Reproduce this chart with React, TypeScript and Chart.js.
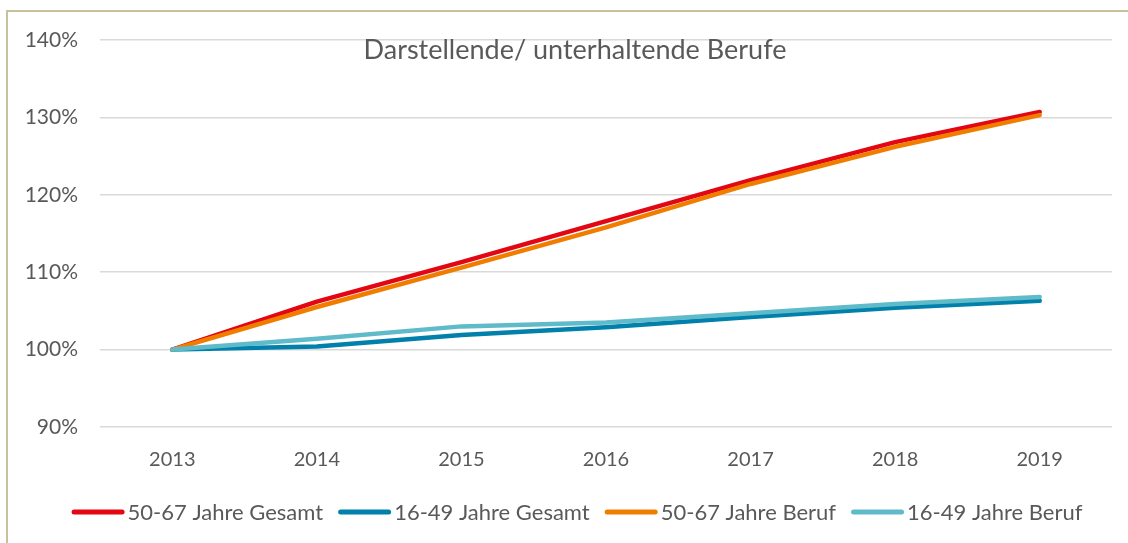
import React, { useEffect, useRef } from "react";
import { Chart, registerables } from "chart.js";

Chart.register(...registerables);

const years = ["2013", "2014", "2015", "2016", "2017", "2018", "2019"];
const gesamt5067 = [100, 106.2, 111.3, 116.6, 121.9, 126.8, 130.7];
const gesamt1649 = [100, 100.4, 101.9, 102.9, 104.2, 105.4, 106.3];
const beruf5067 = [100, 105.5, 110.6, 115.8, 121.4, 126.2, 130.3];
const beruf1649 = [100, 101.4, 103.0, 103.5, 104.7, 105.9, 106.8];
const seriesNames = ["50-67 Jahre Gesamt", "16-49 Jahre Gesamt", "50-67 Jahre Beruf", "16-49 Jahre Beruf"];
const seriesColors = ["#E30613", "#0080AA", "#F07D00", "#5FBACA"];
const yMin = 90;
const yMax = 140;
const yStep = 10;
const chartTitle = "Darstellende/ unterhaltende Berufe";

const FONT = "Lato, 'Open Sans', sans-serif";
const TEXT_COLOR = "#595959";

const overlayPlugin = {
  id: "overlay",
  afterDraw(chart: any) {
    const ctx = chart.ctx as CanvasRenderingContext2D;
    ctx.save();
    // title
    ctx.font = `27px ${FONT}`;
    ctx.fillStyle = TEXT_COLOR;
    ctx.textAlign = "center";
    ctx.textBaseline = "middle";
    ctx.fillText(chartTitle, 575, 50);

    // legend
    ctx.font = `22px ${FONT}`;
    const lineW = 53;
    const gapText = 3;
    const gapItem = 15;
    const widths = seriesNames.map((n) => ctx.measureText(n).width);
    const total = widths.reduce((a, w) => a + lineW + gapText + w, 0) + gapItem * (seriesNames.length - 1);
    let x = 577 - total / 2;
    const y = 512;
    ctx.textAlign = "left";
    seriesNames.forEach((name, i) => {
      ctx.strokeStyle = seriesColors[i];
      ctx.lineWidth = 5;
      ctx.lineCap = "round";
      ctx.beginPath();
      ctx.moveTo(x + 2.5, y);
      ctx.lineTo(x + lineW - 2.5, y);
      ctx.stroke();
      ctx.fillStyle = TEXT_COLOR;
      ctx.fillText(name, x + lineW + gapText, y + 1);
      x += lineW + gapText + widths[i] + gapItem;
    });
    ctx.restore();
  },
};

export default function App() {
  const ref = useRef<HTMLCanvasElement | null>(null);

  useEffect(() => {
    if (!ref.current) return;
    const series = [gesamt5067, gesamt1649, beruf5067, beruf1649];
    const drawOrder = [3, 2, 1, 0];
    const chart = new Chart(ref.current, {
      type: "line",
      data: {
        labels: years,
        datasets: series.map((data, i) => ({
          label: seriesNames[i],
          data,
          borderColor: seriesColors[i],
          backgroundColor: seriesColors[i],
          borderWidth: 4.5,
          borderCapStyle: "round" as const,
          borderJoinStyle: "round" as const,
          pointRadius: 0,
          tension: 0,
          order: drawOrder[i],
        })),
      },
      options: {
        responsive: false,
        animation: false,
        layout: { padding: { left: 0, right: 16, top: 40, bottom: 0 } },
        plugins: {
          legend: { display: false },
          title: { display: false },
          tooltip: { enabled: false },
        },
        scales: {
          x: {
            offset: true,
            grid: { display: false, drawTicks: false },
            border: { display: false },
            ticks: {
              padding: 21,
              color: TEXT_COLOR,
              font: { family: FONT, size: 20 },
            },
            afterFit(scale: any) {
              scale.height = 116;
            },
          },
          y: {
            min: yMin,
            max: yMax,
            grid: { color: "#D9D9D9", lineWidth: 1.5, drawTicks: false },
            border: { display: false },
            ticks: {
              stepSize: yStep,
              padding: 22,
              color: TEXT_COLOR,
              font: { family: FONT, size: 21 },
              callback: (v: any) => `${v}%`,
            },
            afterFit(scale: any) {
              scale.width = 100;
            },
          },
        },
      },
      plugins: [overlayPlugin],
    });
    return () => chart.destroy();
  }, []);

  return (
    <div style={{ position: "absolute", left: 0, top: 0, width: 1128, height: 543, overflow: "hidden", background: "#fff" }}>
      <div
        style={{
          position: "absolute",
          left: 6,
          top: 10,
          width: 1300,
          height: 700,
          borderLeft: "2px solid #C9C19D",
          borderTop: "2px solid #C9C19D",
        }}
      />
      <canvas ref={ref} width={1128} height={543} style={{ position: "absolute", left: 0, top: 0 }} />
    </div>
  );
}
